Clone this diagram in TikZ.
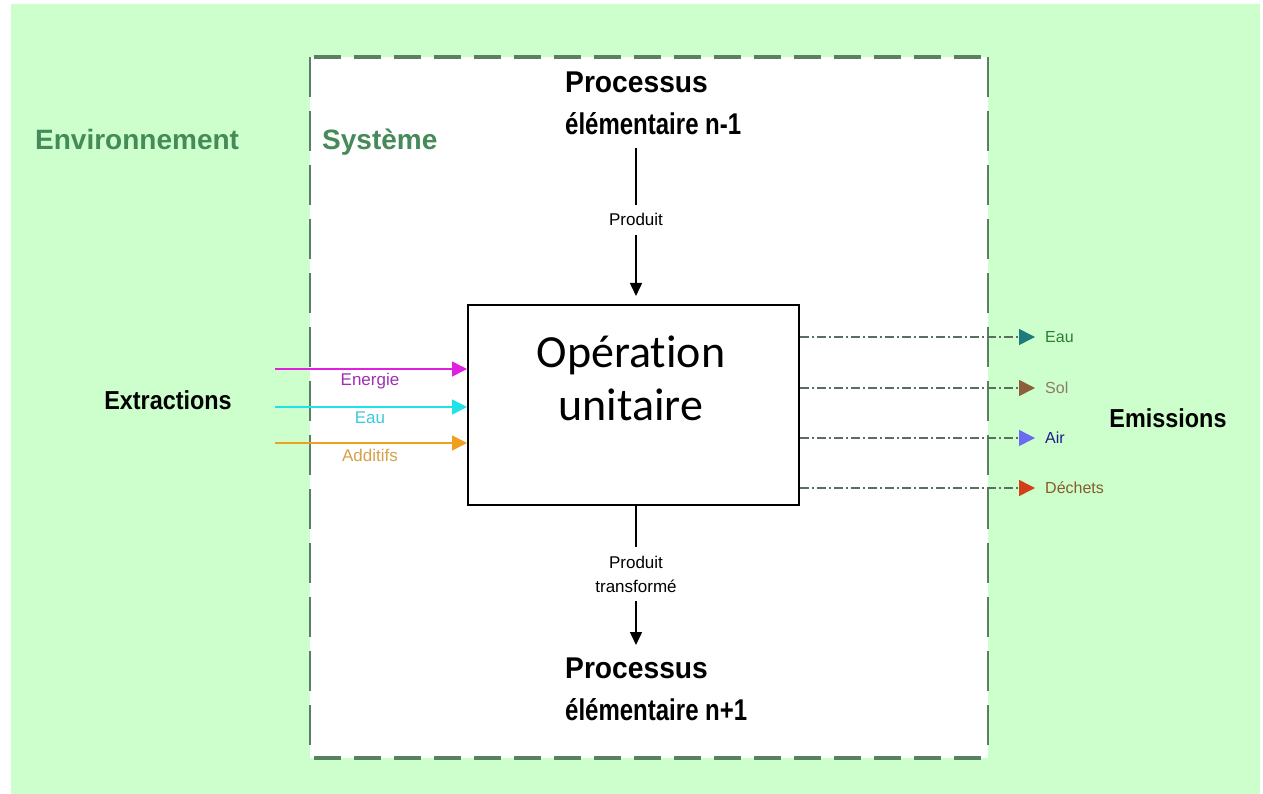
\documentclass[tikz,border=0pt]{standalone}
\usepackage{fontspec}
\setmainfont{Liberation Sans}
\newfontfamily\narrowfont[FakeStretch=0.8]{Liberation Sans}
\newfontfamily\procfont[FakeStretch=0.94]{Liberation Sans}
\newfontfamily\midfont[FakeStretch=0.9]{Liberation Sans}
\newfontfamily\calfont[Ligatures={NoCommon,NoRare,NoDiscretionary},Contextuals={NoAlternate}]{Carlito}
\usetikzlibrary{arrows.meta}
\definecolor{bggreen}{HTML}{CCFFCC}
\definecolor{sysgreen}{HTML}{5A8062}
\definecolor{lblgreen}{HTML}{458A58}
\definecolor{dashgray}{HTML}{5B6E60}
\definecolor{cmag}{HTML}{E020E0}
\definecolor{cmagt}{HTML}{A030B0}
\definecolor{ccyan}{HTML}{20E0E8}
\definecolor{ccyant}{HTML}{40C8E0}
\definecolor{corange}{HTML}{F0A020}
\definecolor{coranget}{HTML}{D8A048}
\definecolor{teal}{HTML}{1E7B7B}
\definecolor{tealt}{HTML}{2E7D32}
\definecolor{brownh}{HTML}{8B5E3C}
\definecolor{brownt}{HTML}{8C7A6A}
\definecolor{blueh}{HTML}{6B6BF0}
\definecolor{bluet}{HTML}{1C1C8C}
\definecolor{redh}{HTML}{D2401A}
\definecolor{redt}{HTML}{8B5A2B}
\begin{document}
\begin{tikzpicture}[x=1pt,y=-1pt,
  bigtitle/.style={font=\procfont\bfseries\fontsize{30}{36}\selectfont, inner sep=0pt, anchor=base west},
  bigsub/.style={font=\narrowfont\bfseries\fontsize{30}{36}\selectfont, inner sep=0pt, anchor=base west},
  zonelbl/.style={font=\bfseries\fontsize{28}{32}\selectfont, text=lblgreen, inner sep=0pt, anchor=base west},
  sidelbl/.style={font=\midfont\bfseries\fontsize{26}{30}\selectfont, text=black, inner sep=0pt},
  oplbl/.style={font=\calfont\fontsize{46}{54}\selectfont, inner sep=0pt, anchor=base},
  lblw/.style={font=\fontsize{17}{24}\selectfont, fill=white, inner xsep=3pt, inner ysep=9pt, align=center},
  smlbl/.style={font=\fontsize{17}{22}\selectfont, inner sep=0pt},
  emlbl/.style={font=\fontsize{16}{20}\selectfont, inner sep=0pt, anchor=west},
  opbox/.style={draw=black, line width=2pt, fill=white, minimum width=331pt, minimum height=200pt, inner sep=0pt},
  blk/.style={draw=black, line width=1.5pt, -{Triangle[length=13pt,width=12pt]}},
  colarr/.style={line width=1.6pt},
  emarr/.style={draw=dashgray, line width=1.5pt, dash pattern=on 9pt off 3pt on 2pt off 3pt},
  hdash/.style={draw=sysgreen, line width=4pt, dash pattern=on 27pt off 13pt},
  vdash/.style={draw=sysgreen, line width=2pt, dash pattern=on 40pt off 14pt}
]
\useasboundingbox (0,0) rectangle (1263,794);
\fill[white] (0,0) rectangle (1263,794);
\fill[bggreen] (11,4) rectangle (1260,794);
% system area
\fill[white] (310,57) rectangle (988,758);
\draw[hdash] (314,57) -- (988,57);
\draw[hdash] (314,758) -- (988,758);
\draw[vdash] (310,57) -- (310,758);
\draw[vdash] (988,57) -- (988,758);

\node[zonelbl] (env) at (35,150) {Environnement};
\node[zonelbl] (sys) at (322,150) {Système};

% operation box
\node[opbox] (op) at (633.5,405) {};
\node[oplbl] (op1) at (631,367) {Opérat\kern0pt ion};
\node[oplbl] (op2) at (631,420) {unitaire};

% top process
\node[bigtitle] (pa1) at (565,93) {Processus};
\node[bigsub] (pa2) at (565,135) {élémentaire n-1};
\coordinate (ta) at (636,148);
\draw[blk, shorten >=8pt] (ta) -- node[pos=0.46, lblw] (prod1) {Produit} (op.north -| ta);

% bottom process
\node[bigtitle] (pb1) at (565,678) {Processus};
\node[bigsub] (pb2) at (565,720) {élémentaire n+1};
\coordinate (bt) at (636,645);
\draw[blk] (op.south -| bt) -- node[pos=0.49, lblw] (prod2) {Produit\\transformé} (bt);

% extractions
\node[sidelbl] (ext) at (168,400) {Extractions};
\coordinate (e1) at (275,369);
\coordinate (e2) at (275,407);
\coordinate (e3) at (275,443);
\draw[colarr, draw=cmag, -{Triangle[length=15pt,width=15pt,color=cmag]}] (e1) -- (op.west |- e1);
\draw[colarr, draw=ccyan, -{Triangle[length=15pt,width=15pt,color=ccyan]}] (e2) -- (op.west |- e2);
\draw[colarr, draw=corange, -{Triangle[length=15pt,width=15pt,color=corange]}] (e3) -- (op.west |- e3);
\node[smlbl, text=cmagt] (le1) at (370,381) {Energie};
\node[smlbl, text=ccyant] (le2) at (370,418) {Eau};
\node[smlbl, text=coranget] (le3) at (370,455) {Additifs};

% emissions
\node[sidelbl] (emi) at (1168,418) {Emissions};
\coordinate (r1) at (1035,337);
\coordinate (r2) at (1035,388);
\coordinate (r3) at (1035,438);
\coordinate (r4) at (1035,488);
\draw[emarr, -{Triangle[length=16pt,width=16pt,color=teal]}] (op.east |- r1) -- (r1);
\draw[emarr, -{Triangle[length=16pt,width=16pt,color=brownh]}] (op.east |- r2) -- (r2);
\draw[emarr, -{Triangle[length=16pt,width=16pt,color=blueh]}] (op.east |- r3) -- (r3);
\draw[emarr, -{Triangle[length=16pt,width=16pt,color=redh]}] (op.east |- r4) -- (r4);
\node[emlbl, text=tealt] (lr1) at (1045,337) {Eau};
\node[emlbl, text=brownt] (lr2) at (1045,388) {Sol};
\node[emlbl, text=bluet] (lr3) at (1045,438) {Air};
\node[emlbl, text=redt] (lr4) at (1045,488) {Déchets};
\end{tikzpicture}
\end{document}
